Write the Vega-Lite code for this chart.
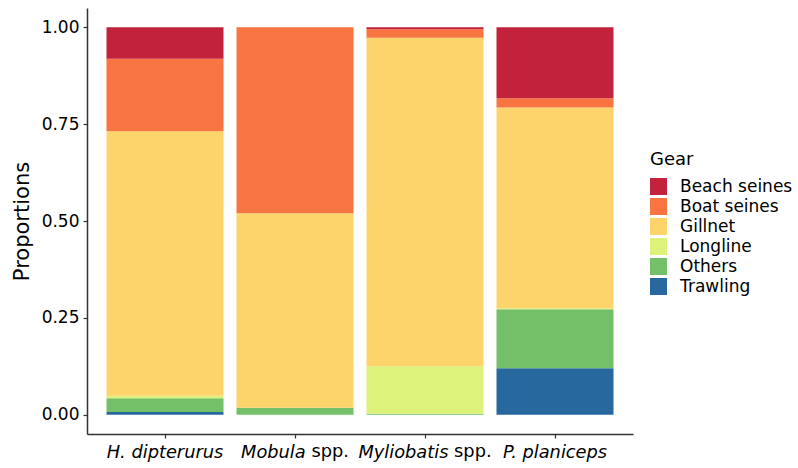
{
  "$schema": "https://vega.github.io/schema/vega-lite/v6.json",
  "width": 546,
  "height": 426,
  "padding": {"left": 11, "top": 8, "right": 5, "bottom": 5},
  "background": "white",
  "config": {
    "font": "DejaVu Sans",
    "view": {"stroke": null},
    "axis": {"grid": false, "domainColor": "#333333", "domainWidth": 1.5, "tickColor": "#333333", "tickWidth": 1.2, "tickSize": 4, "labelColor": "#000000", "titleColor": "#000000", "labelFont": "DejaVu Sans", "titleFont": "DejaVu Sans", "labelFontSize": 17, "titleFontWeight": "normal"}
  },
  "datasets": {
    "props": [
      {"species": "H. dipterurus", "gear": "Trawling", "proportion": 0.007},
      {"species": "H. dipterurus", "gear": "Others", "proportion": 0.035},
      {"species": "H. dipterurus", "gear": "Longline", "proportion": 0.007},
      {"species": "H. dipterurus", "gear": "Gillnet", "proportion": 0.683},
      {"species": "H. dipterurus", "gear": "Boat seines", "proportion": 0.187},
      {"species": "H. dipterurus", "gear": "Beach seines", "proportion": 0.081},
      {"species": "Mobula spp.", "gear": "Trawling", "proportion": 0.0},
      {"species": "Mobula spp.", "gear": "Others", "proportion": 0.018},
      {"species": "Mobula spp.", "gear": "Longline", "proportion": 0.0},
      {"species": "Mobula spp.", "gear": "Gillnet", "proportion": 0.502},
      {"species": "Mobula spp.", "gear": "Boat seines", "proportion": 0.48},
      {"species": "Mobula spp.", "gear": "Beach seines", "proportion": 0.0},
      {"species": "Myliobatis spp.", "gear": "Trawling", "proportion": 0.0},
      {"species": "Myliobatis spp.", "gear": "Others", "proportion": 0.002},
      {"species": "Myliobatis spp.", "gear": "Longline", "proportion": 0.123},
      {"species": "Myliobatis spp.", "gear": "Gillnet", "proportion": 0.848},
      {"species": "Myliobatis spp.", "gear": "Boat seines", "proportion": 0.022},
      {"species": "Myliobatis spp.", "gear": "Beach seines", "proportion": 0.005},
      {"species": "P. planiceps", "gear": "Trawling", "proportion": 0.12},
      {"species": "P. planiceps", "gear": "Others", "proportion": 0.152},
      {"species": "P. planiceps", "gear": "Longline", "proportion": 0.003},
      {"species": "P. planiceps", "gear": "Gillnet", "proportion": 0.518},
      {"species": "P. planiceps", "gear": "Boat seines", "proportion": 0.024},
      {"species": "P. planiceps", "gear": "Beach seines", "proportion": 0.183}
    ],
    "suffixes": [
      {"species": "Mobula spp.", "suffix": "spp."},
      {"species": "Myliobatis spp.", "suffix": "spp."}
    ]
  },
  "layer": [
    {
      "data": {"name": "props"},
      "mark": {"type": "bar"},
      "encoding": {
        "x": {
          "field": "species", "type": "nominal",
          "scale": {"paddingInner": 0.1, "paddingOuter": 0.15},
          "axis": {
            "title": null,
            "labelAngle": 0,
            "labelPadding": 5,
            "labelFontSize": 17.8,
            "labelFontStyle": "italic",
            "labelExpr": "replace(datum.label, ' spp.', '')",
            "labelAlign": {"condition": {"test": "indexof(datum.value, 'spp.') >= 0", "value": "right"}, "value": "center"},
            "labelOffset": {"condition": [{"test": "datum.value == 'Mobula spp.'", "value": 10.7}, {"test": "datum.value == 'Myliobatis spp.'", "value": 23.4}], "value": 0}
          }
        },
        "y": {
          "field": "proportion", "type": "quantitative", "stack": "zero",
          "scale": {"domain": [-0.05, 1.05], "nice": false, "zero": false},
          "axis": {"title": "Proportions", "titleFontSize": 21, "titlePadding": 9, "values": [0, 0.25, 0.5, 0.75, 1], "format": ".2f", "labelPadding": 4}
        },
        "color": {
          "field": "gear", "type": "nominal",
          "scale": {
            "domain": ["Beach seines", "Boat seines", "Gillnet", "Longline", "Others", "Trawling"],
            "range": ["#C2223B", "#F87542", "#FDD46B", "#DDF27A", "#74C069", "#27699F"]
          },
          "legend": {
            "title": "Gear", "orient": "none", "legendX": 563, "legendY": 143,
            "titleFontSize": 18, "titleFontWeight": "normal", "titleColor": "#000000", "titlePadding": 9,
            "labelFontSize": 17, "labelColor": "#000000", "labelOffset": 13,
            "symbolType": "square", "symbolSize": 289, "symbolStrokeWidth": 0, "rowPadding": 2
          }
        },
        "order": {"field": "gear", "sort": "descending"}
      }
    },
    {
      "data": {"name": "suffixes"},
      "transform": [{"filter": "datum.species == 'Mobula spp.'"}],
      "mark": {"type": "text", "align": "left", "baseline": "top", "dx": 16.4, "dy": 9, "fontSize": 17.8, "font": "DejaVu Sans", "color": "#000000"},
      "encoding": {
        "x": {"field": "species", "type": "nominal"},
        "y": {"datum": -0.05, "type": "quantitative"},
        "text": {"field": "suffix"}
      }
    },
    {
      "data": {"name": "suffixes"},
      "transform": [{"filter": "datum.species == 'Myliobatis spp.'"}],
      "mark": {"type": "text", "align": "left", "baseline": "top", "dx": 29.1, "dy": 9, "fontSize": 17.8, "font": "DejaVu Sans", "color": "#000000"},
      "encoding": {
        "x": {"field": "species", "type": "nominal"},
        "y": {"datum": -0.05, "type": "quantitative"},
        "text": {"field": "suffix"}
      }
    }
  ]
}
